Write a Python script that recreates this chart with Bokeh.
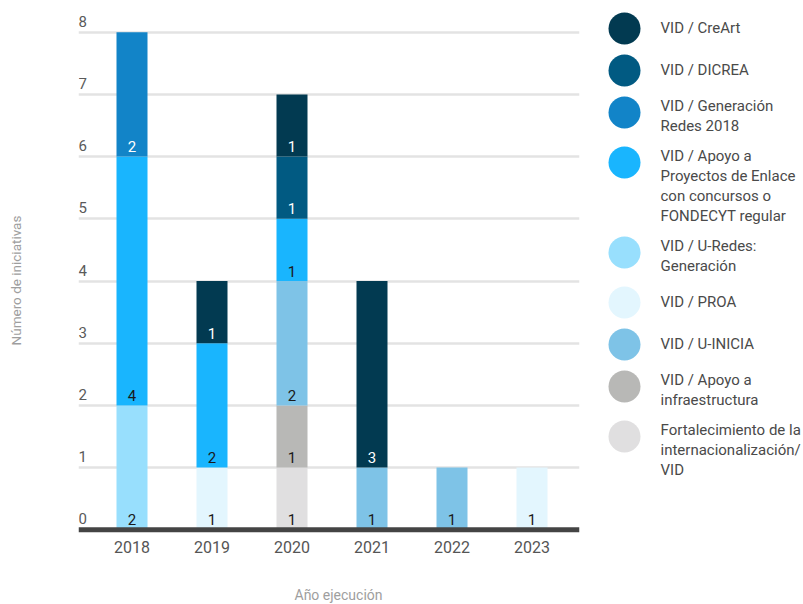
import math
import numpy as np
from bokeh.plotting import figure
from bokeh.layouts import row
from bokeh.models import Range1d, FixedTicker, Span, Grid
from bokeh.core.properties import value
from bokeh.embed import file_html
from bokeh.resources import INLINE

# ---------------- data ----------------
years = ["2018", "2019", "2020", "2021", "2022", "2023"]

# series, listed from top of stack (legend order) to bottom
series_names = [
    "VID / CreArt",
    "VID / DICREA",
    "VID / Generación\nRedes 2018",
    "VID / Apoyo a\nProyectos de Enlace\ncon concursos o\nFONDECYT regular",
    "VID / U-Redes:\nGeneración",
    "VID / PROA",
    "VID / U-INICIA",
    "VID / Apoyo a\ninfraestructura",
    "Fortalecimiento de la\ninternacionalización/\nVID",
]
creart = [0, 1, 1, 3, 0, 0]
dicrea = [0, 0, 1, 0, 0, 0]
generacion_redes = [2, 0, 0, 0, 0, 0]
apoyo_proyectos = [4, 2, 1, 0, 0, 0]
u_redes = [2, 0, 0, 0, 0, 0]
proa = [0, 1, 0, 0, 0, 1]
u_inicia = [0, 0, 2, 1, 1, 0]
apoyo_infra = [0, 0, 1, 0, 0, 0]
fortalecimiento = [0, 0, 1, 0, 0, 0]
series_values = [creart, dicrea, generacion_redes, apoyo_proyectos, u_redes,
                 proa, u_inicia, apoyo_infra, fortalecimiento]

colors = ["#023a51", "#015a82", "#1284c8", "#19b5fe", "#98dffd",
          "#e3f6fe", "#7ec3e7", "#b8b8b6", "#e0dfe0"]
label_colors = ["white", "white", "white", "#1a1a1a", "#1a1a1a",
                "#1a1a1a", "#1a1a1a", "#1a1a1a", "#1a1a1a"]

y_ticks = [0, 1, 2, 3, 4, 5, 6, 7, 8]
x_title = "Año ejecución"
y_title = "Número de iniciativas"

FONT = value("Roboto")
H = 604

# ---------------- layout constants (pixels) ----------------
LEFT_W, MAIN_W, LEG_W = 40, 555, 208
FRAME_L, FRAME_R = 78, 579           # frame edges on the page
BAR0_X, BAR_STEP, BAR_W = 131.5, 80.0, 31.0
Y0_PX, UNIT_PX = 529.3, 62.2          # pixel row of value 0, pixels per unit

x_start = (FRAME_L - BAR0_X) / BAR_STEP
x_end = (FRAME_R - BAR0_X) / BAR_STEP
y_end = Y0_PX / UNIT_PX
y_start = (Y0_PX - H) / UNIT_PX

# ---------------- left strip: y title ----------------
lt = figure(width=LEFT_W, height=H, output_backend="svg", toolbar_location=None,
            x_range=Range1d(0, LEFT_W), y_range=Range1d(H, 0), min_border=0,
            x_axis_location=None, y_axis_location=None)
lt.outline_line_color = None
lt.grid.visible = False
lt.text(x=[15], y=[280], text=[y_title], angle=math.pi / 2, text_font=FONT,
        text_font_size="13.5px", text_color="#9e9e9e", text_align="center",
        text_baseline="middle")

# ---------------- main chart ----------------
p = figure(width=MAIN_W, height=H, output_backend="svg", toolbar_location=None,
           x_range=Range1d(x_start, x_end), y_range=Range1d(y_start, y_end),
           min_border_left=FRAME_L - LEFT_W, min_border_right=LEFT_W + MAIN_W - FRAME_R,
           min_border_top=0, min_border_bottom=0,
           x_axis_location=None, y_axis_location=None)
p.outline_line_color = None
p.grid.visible = False

p.add_layout(Grid(dimension=1, ticker=FixedTicker(ticks=y_ticks[1:]),
                  grid_line_color="#e3e3e3", grid_line_width=2.5), "center")

xs = list(range(len(years)))
keys = ["s%d" % i for i in range(len(series_names))]
data = {"x": xs}
for k, v in zip(keys, series_values):
    data[k] = v

stack_keys = keys[::-1]
stack_colors = colors[::-1]
p.vbar_stack(stack_keys, x="x", width=BAR_W / BAR_STEP, source=data,
             fill_color=stack_colors, line_color=None, line_width=0)

# value labels at the base of each segment
lx, ly, ltx, lc = [], [], [], []
base = np.zeros(len(years))
for k in stack_keys:
    i = keys.index(k)
    vals = np.array(series_values[i], dtype=float)
    for j, v in enumerate(vals):
        if v > 0:
            lx.append(xs[j]); ly.append(base[j]); ltx.append(str(int(v)))
            lc.append(label_colors[i])
    base += vals
p.text(x=lx, y=ly, text=ltx, text_color=lc, text_font=FONT,
       text_font_size="15px", text_align="center", text_baseline="alphabetic",
       y_offset=-10)

# y tick labels above the gridlines
p.text(x=[x_start] * len(y_ticks), y=y_ticks, text=[str(t) for t in y_ticks],
       text_color="#5a5a5a", text_font=FONT, text_font_size="15px",
       text_align="left", text_baseline="alphabetic", y_offset=-11)

# year labels
p.text(x=xs, y=[0] * len(xs), text=years, text_color="#555555", text_font=FONT,
       text_font_size="16px", text_align="center", text_baseline="alphabetic",
       y_offset=17)

# x title
p.text(x=[(338 - BAR0_X) / BAR_STEP], y=[0], text=[x_title], text_color="#9e9e9e",
       text_font=FONT, text_font_size="14px", text_align="center",
       text_baseline="alphabetic", y_offset=65)

# baseline
p.add_layout(Span(location=0, dimension="width", line_color="#444444", line_width=5))

# ---------------- legend ----------------
lf = figure(width=LEG_W, height=H, output_backend="svg", toolbar_location=None,
            x_range=Range1d(0, LEG_W), y_range=Range1d(H, 0), min_border=0,
            x_axis_location=None, y_axis_location=None)
lf.outline_line_color = None
lf.grid.visible = False

line_h, circ_d, gap = 20, 32, 10
top = 12
cx, cy, tx, ty, tt = [], [], [], [], []
for name in series_names:
    lines = name.split("\n")
    n = len(lines)
    item_h = max(circ_d, line_h * n)
    cx.append(29); cy.append(top + circ_d / 2)
    first = top + (item_h - line_h * n) / 2 + line_h / 2 - 1
    for k, ln in enumerate(lines):
        tx.append(65); ty.append(first + k * line_h); tt.append(ln)
    top += item_h + gap

lf.scatter(x=cx, y=cy, size=circ_d, marker="circle", fill_color=colors, line_color=None)
lf.text(x=tx, y=ty, text=tt, text_font=FONT, text_font_size="15px",
        text_color="#4a4a4a", text_align="left", text_baseline="middle")

layout = row(lt, p, lf)
open("out.html", "w").write(file_html(layout, INLINE))
